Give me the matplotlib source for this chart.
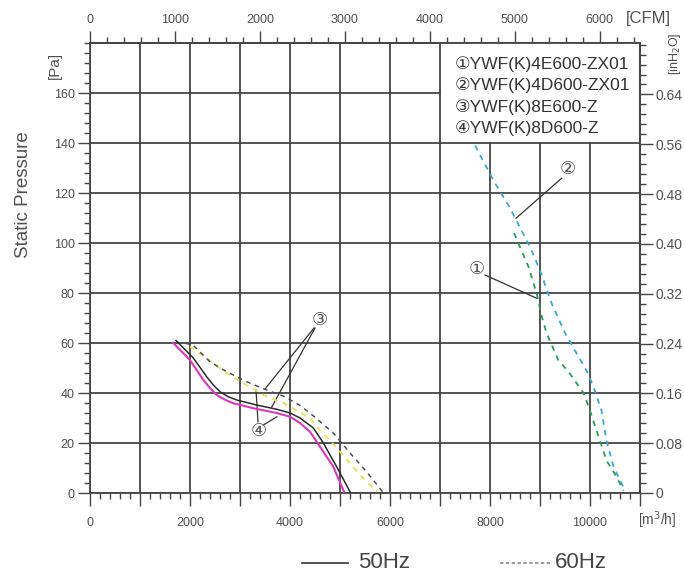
import numpy as np
import matplotlib.pyplot as plt
from matplotlib.ticker import MultipleLocator, FixedLocator, FuncFormatter
from matplotlib.patches import Rectangle
from matplotlib.lines import Line2D

plt.rcParams['font.family'] = ['Liberation Sans', 'DejaVu Sans']

# 풍량 [m3/h] - 정압 [Pa]
# ③ 8E600 50Hz (magenta)
q_mag = [1667, 2000, 2267, 2400, 2533, 2700, 2867, 3267, 3733, 4000, 4200, 4400, 4600, 4867, 5080]
p_mag = [60, 53.2, 45.2, 42, 39.2, 37.3, 35.9, 33.9, 32, 30.5, 28, 24.5, 18.5, 10.5, 0.5]
# ④ 8D600 50Hz (black)
q_blk = [1720, 2067, 2333, 2467, 2600, 2767, 2933, 3333, 3733, 4000, 4200, 4467, 4667, 4933, 5200]
p_blk = [61, 54, 46.5, 43.2, 40.5, 38.5, 37.2, 35.2, 33.5, 32, 30, 26, 20, 10.5, 0.5]
# 60Hz (yellow dashed)
q_yel = [2000, 2333, 2733, 3133, 3533, 3867, 4400, 4600, 4800, 5067, 5400, 5750]
p_yel = [58.5, 53.9, 47.9, 43.2, 38.5, 36, 30, 25, 21, 15, 7.2, 0.5]
# 60Hz (grey dashed)
q_gry = [1900, 2067, 2400, 2733, 3133, 3533, 3900, 4200, 4400, 4867, 5200, 5533, 5850]
p_gry = [60, 59, 52.5, 48.5, 44.5, 41.2, 38.5, 35, 32, 24, 16, 8.5, 0.5]
# ② 4D600 (cyan dashed)
q_cyn = [7700, 8070, 8400, 8630, 8800, 9000, 9230, 9500, 9770, 9930, 10070, 10230, 10330, 10470, 10700]
p_cyn = [139, 125, 114, 105, 98.5, 89, 76, 64, 54.5, 49, 42.5, 33, 21, 10.5, 1]
# ① 4E600 (green dashed)
q_grn = [8480, 8770, 8930, 9030, 9130, 9370, 9570, 9870, 10000, 10130, 10330, 10530, 10670]
p_grn = [104, 90.5, 80, 71, 64, 53, 48.5, 40, 33, 25, 13, 6.5, 1]

models = ['①YWF(K)4E600-ZX01', '②YWF(K)4D600-ZX01', '③YWF(K)8E600-Z', '④YWF(K)8D600-Z']

fig = plt.figure(figsize=(6.84, 5.79), dpi=100)
ax = fig.add_axes([90/684, 86/579, 550/684, 450/579])

ax.set_xlim(0, 11000)
ax.set_ylim(0, 180)

grid_c = '#454545'
txt_c = '#505050'

ax.xaxis.set_major_locator(MultipleLocator(1000))
ax.xaxis.set_minor_locator(MultipleLocator(200))
ax.xaxis.set_major_formatter(FuncFormatter(lambda v, p: f'{int(v)}' if int(v) % 2000 == 0 and v <= 10000 else ''))
ax.yaxis.set_major_locator(FixedLocator([0, 20, 40, 60, 80, 100, 120, 140, 160]))
ax.yaxis.set_minor_locator(MultipleLocator(4))
ax.grid(True, which='major', color=grid_c, lw=1.3)
ax.set_axisbelow(True)
ax.tick_params(which='major', length=9, width=1, color=grid_c, labelsize=9, labelcolor=txt_c, pad=2)
ax.tick_params(which='minor', length=4.5, width=1, color=grid_c)
ax.tick_params(axis='x', which='major', pad=8)
for s in ax.spines.values():
    s.set_color(grid_c)
    s.set_linewidth(1.3)

# legend area
ax.add_patch(Rectangle((7030, 140.6), 3950, 39.2, facecolor='white', edgecolor='none', zorder=1))
for i, m in enumerate(models):
    ax.text(7300, 171.6 - i * 8.6, m, fontsize=12.5, color='#333333', va='center', zorder=3)

ax.plot(q_mag, p_mag, color='#dc38b8', lw=1.5, zorder=4)
ax.plot(q_blk, p_blk, color='#2a2a2a', lw=1.1, zorder=4)
ax.plot(q_yel, p_yel, color='#e6e25a', lw=1.3, ls=(0, (3, 3)), zorder=4)
ax.plot(q_gry, p_gry, color='#4a5260', lw=1.1, ls=(0, (3, 3)), zorder=4)
ax.plot(q_cyn, p_cyn, color='#3aa6d6', lw=1.3, ls=(0, (3, 3)), zorder=4)
ax.plot(q_grn, p_grn, color='#2e9a5a', lw=1.3, ls=(0, (3, 3)), zorder=4)

# 번호 표시
lc = '#333333'
ax.text(7733, 89.5, '①', fontsize=13, color='#555555', ha='center', va='center', family=['DejaVu Sans'])
ax.plot([7900, 8933], [87.2, 77.9], color=lc, lw=0.9)
ax.text(9553, 129.5, '②', fontsize=13, color='#555555', ha='center', va='center', family=['DejaVu Sans'])
ax.plot([9433, 8520], [125.9, 109.9], color=lc, lw=0.9)
ax.text(4600, 69.2, '③', fontsize=13, color='#555555', ha='center', va='center', family=['DejaVu Sans'])
ax.plot([4480, 3500], [66, 41.6], color=lc, lw=0.9)
ax.plot([4500, 3633], [66, 34.3], color=lc, lw=0.9)
ax.text(3367, 25, '④', fontsize=13, color='#555555', ha='center', va='center', family=['DejaVu Sans'])
ax.plot([3360, 3320], [28.5, 41.2], color=lc, lw=0.9)
ax.plot([3466, 3740], [27.2, 30.5], color=lc, lw=0.9)

# top CFM axis
top = ax.secondary_xaxis('top', functions=(lambda x: x / 1.699, lambda c: c * 1.699))
top.xaxis.set_major_locator(FixedLocator([0, 1000, 2000, 3000, 4000, 5000, 6000]))
top.xaxis.set_minor_locator(MultipleLocator(200))
top.tick_params(which='major', length=9, width=1, color=grid_c, labelsize=9, labelcolor=txt_c, pad=3)
top.tick_params(which='minor', length=4.5, width=1, color=grid_c)
top.spines['top'].set_color(grid_c)
top.spines['top'].set_linewidth(1.3)

# right inH2O axis
right = ax.secondary_yaxis('right', functions=(lambda p: p / 249.09, lambda i: i * 249.09))
right.yaxis.set_major_locator(FixedLocator([0, 0.08, 0.16, 0.24, 0.32, 0.40, 0.48, 0.56, 0.64]))
right.yaxis.set_minor_locator(FixedLocator(np.arange(0, 0.73, 0.016)))
right.yaxis.set_major_formatter(FuncFormatter(lambda v, p: '0' if v == 0 else f'{v:.2f}'))
right.tick_params(which='major', length=9, width=1, color=grid_c, labelsize=10, labelcolor=txt_c, pad=2)
right.tick_params(which='minor', length=4.5, width=1, color=grid_c)
right.spines['right'].set_color(grid_c)
right.spines['right'].set_linewidth(1.3)

# 축 이름
ax.text(-0.12, 0.662, 'Static Pressure', transform=ax.transAxes, rotation=90,
        fontsize=13.5, color=txt_c, ha='center', va='center')
ax.text(-0.064, 0.951, '[Pa]', transform=ax.transAxes, rotation=90,
        fontsize=11, color=txt_c, ha='center', va='center')
fig.text(648/684, 1 - 18/579, '[CFM]', fontsize=12, color=txt_c, ha='center', va='center')
fig.text(657/684, 1 - 520/579, '[m$^3$/h]', fontsize=10, color=txt_c, ha='center', va='center')
fig.text(675/684, 1 - 54/579, '[inH$_2$O]', fontsize=9, color=txt_c, rotation=90, ha='center', va='center')

# 하단 범례
fig.add_artist(Line2D([302/684, 348/684], [1 - 563/579] * 2, color='#333333', lw=1.2))
fig.text(358/684, 1 - 563/579, '50Hz', fontsize=16, color='#444444', va='center')
fig.add_artist(Line2D([500/684, 550/684], [1 - 563/579] * 2, color='#888888', lw=1.2, ls=(0, (2, 1.5))))
fig.text(555/684, 1 - 563/579, '60Hz', fontsize=16, color='#444444', va='center')

fig.savefig('out.png', dpi=100, facecolor='white')
